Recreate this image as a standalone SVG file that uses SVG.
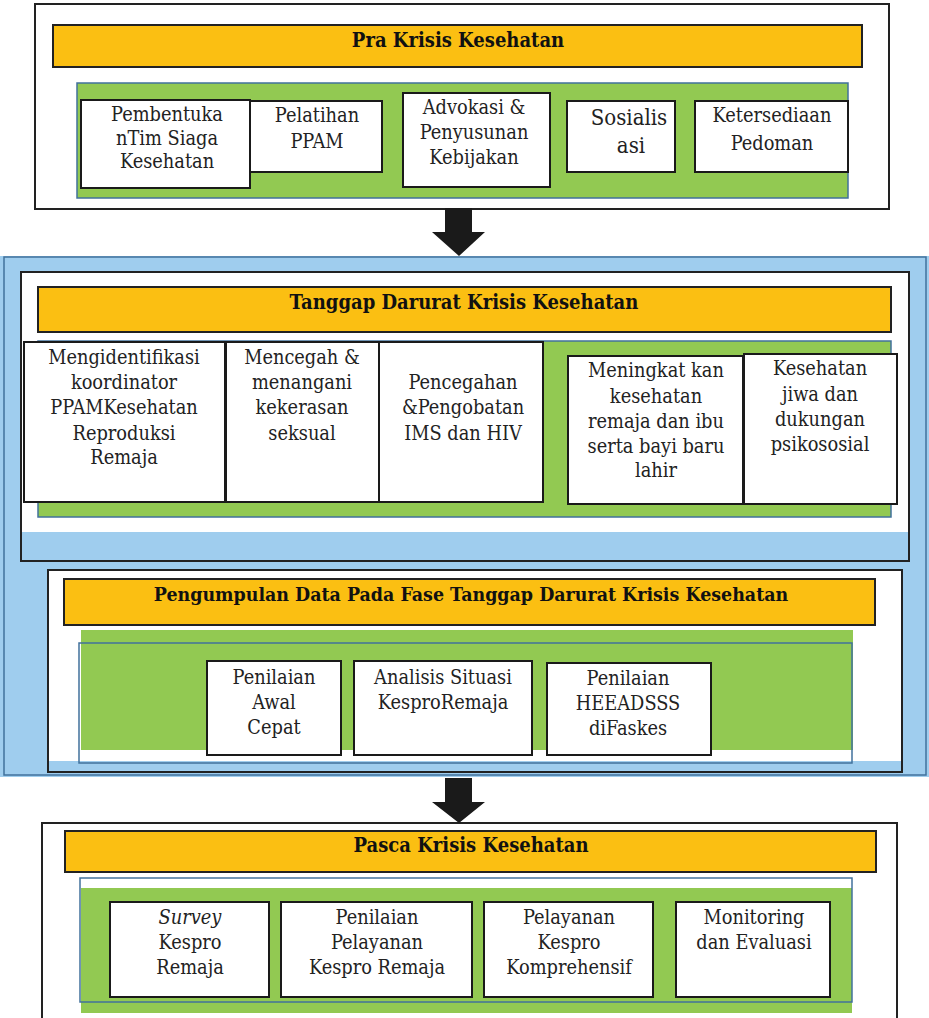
<svg xmlns="http://www.w3.org/2000/svg" width="929" height="1018" viewBox="0 0 929 1018">
<style>
.frame{fill:#fff;stroke:#222;stroke-width:2}
.bar{fill:#FBBF12;stroke:#222;stroke-width:2}
.green{fill:#92C952;stroke:#41719C;stroke-width:1.5}
.gfill{fill:#92C952}
.box{fill:#fff;stroke:#1a1a1a;stroke-width:2}
.lb{fill:#9FCDEE}
.t{font-family:"DejaVu Serif Condensed","DejaVu Serif",serif;font-stretch:condensed;font-size:19.8px;fill:#222;text-anchor:middle}
.h{font-family:"DejaVu Serif Condensed","DejaVu Serif",serif;font-stretch:condensed;font-size:20px;font-weight:bold;fill:#111;text-anchor:middle}
.arrow{fill:#1a1a1a}
</style>

<g id="pra">
<rect class="frame" x="35" y="4" width="854" height="205"/>
<rect class="bar" x="53" y="25" width="809" height="42"/>
<text class="h" x="458" y="47">Pra Krisis Kesehatan</text>
<rect class="green" x="77" y="83" width="771" height="115"/>
</g>
<g id="pra-1"><rect class="box" x="81" y="100" width="169" height="88"/>
<text class="t" x="167" y="121">Pembentuka</text><text class="t" x="167" y="145">nTim Siaga</text><text class="t" x="167" y="168">Kesehatan</text></g>
<g id="pra-2"><rect class="box" x="250" y="101" width="132" height="71"/>
<text class="t" x="317" y="122">Pelatihan</text><text class="t" x="317" y="148">PPAM</text></g>
<g id="pra-3"><rect class="box" x="403" y="93" width="147" height="94"/>
<text class="t" x="474" y="114">Advokasi &amp;</text><text class="t" x="474" y="139">Penyusunan</text><text class="t" x="474" y="164">Kebijakan</text></g>
<g id="pra-4"><rect class="box" x="567" y="101" width="108" height="71"/>
<text class="t" x="629" y="125" style="font-size:22px">Sosialis</text><text class="t" x="631" y="153" style="font-size:22px">asi</text></g>
<g id="pra-5"><rect class="box" x="695" y="101" width="153" height="71"/>
<text class="t" x="772" y="122">Ketersediaan</text><text class="t" x="772" y="150">Pedoman</text></g>

<g id="tanggap">
<rect x="0" y="256" width="929" height="521" class="lb"/>
<rect x="4" y="257" width="922" height="518" fill="none" stroke="#41719C" stroke-width="1.5"/>
<rect class="frame" x="21" y="272" width="888" height="289"/>
<rect class="lb" x="22" y="532" width="886" height="28"/>
<rect class="bar" x="38" y="287" width="853" height="45"/>
<text class="h" x="464" y="309">Tanggap Darurat Krisis Kesehatan</text>
<rect class="green" x="38" y="341" width="853" height="176"/>
</g>
<g id="td-1"><rect class="box" x="24" y="342" width="201" height="160"/>
<text class="t" x="124" y="364">Mengidentifikasi</text><text class="t" x="124" y="389">koordinator</text><text class="t" x="124" y="414">PPAMKesehatan</text><text class="t" x="124" y="440">Reproduksi</text><text class="t" x="124" y="464">Remaja</text></g>
<g id="td-2"><rect class="box" x="226" y="342" width="153" height="160"/>
<text class="t" x="302" y="364">Mencegah &amp;</text><text class="t" x="302" y="389">menangani</text><text class="t" x="302" y="414">kekerasan</text><text class="t" x="302" y="440">seksual</text></g>
<g id="td-3"><rect class="box" x="379" y="342" width="164" height="160"/>
<text class="t" x="463" y="389">Pencegahan</text><text class="t" x="463" y="414">&amp;Pengobatan</text><text class="t" x="463" y="440">IMS dan HIV</text></g>
<g id="td-4"><rect class="box" x="568" y="356" width="175" height="148"/>
<text class="t" x="656" y="377">Meningkat kan</text><text class="t" x="656" y="403">kesehatan</text><text class="t" x="656" y="428">remaja dan ibu</text><text class="t" x="656" y="453">serta bayi baru</text><text class="t" x="656" y="477">lahir</text></g>
<g id="td-5"><rect class="box" x="744" y="354" width="153" height="150"/>
<text class="t" x="820" y="375">Kesehatan</text><text class="t" x="820" y="401">jiwa dan</text><text class="t" x="820" y="426">dukungan</text><text class="t" x="820" y="451">psikososial</text></g>

<g id="pengumpulan">
<rect class="frame" x="48" y="570" width="854" height="202"/>
<rect class="lb" x="49" y="761" width="852" height="10"/>
<rect class="bar" x="64" y="579" width="811" height="46"/>
<text class="h" x="471" y="601" style="font-size:19.4px">Pengumpulan Data Pada Fase Tanggap Darurat Krisis Kesehatan</text>
<rect class="gfill" x="81" y="630" width="772" height="120"/>
<rect x="79" y="643" width="773" height="120" fill="none" stroke="#41719C" stroke-width="1.5"/>
</g>
<g id="pd-1"><rect class="box" x="207" y="661" width="134" height="94"/>
<text class="t" x="274" y="684">Penilaian</text><text class="t" x="274" y="709">Awal</text><text class="t" x="274" y="734">Cepat</text></g>
<g id="pd-2"><rect class="box" x="354" y="661" width="178" height="94"/>
<text class="t" x="443" y="684">Analisis Situasi</text><text class="t" x="443" y="709">KesproRemaja</text></g>
<g id="pd-3"><rect class="box" x="547" y="663" width="164" height="92"/>
<text class="t" x="628" y="685">Penilaian</text><text class="t" x="628" y="710">HEEADSSS</text><text class="t" x="628" y="735">diFaskes</text></g>

<g id="pasca">
<rect class="frame" x="42" y="823" width="855" height="210"/>
<rect class="bar" x="65" y="831" width="811" height="41"/>
<text class="h" x="471" y="852">Pasca Krisis Kesehatan</text>
<rect class="gfill" x="81" y="888" width="771" height="125"/>
<rect x="80" y="878" width="772" height="124" fill="none" stroke="#41719C" stroke-width="1.5"/>
</g>
<g id="pc-1"><rect class="box" x="110" y="902" width="159" height="95"/>
<text class="t" x="190" y="924" font-style="italic">Survey</text><text class="t" x="190" y="949">Kespro</text><text class="t" x="190" y="974">Remaja</text></g>
<g id="pc-2"><rect class="box" x="281" y="902" width="191" height="95"/>
<text class="t" x="377" y="924">Penilaian</text><text class="t" x="377" y="949">Pelayanan</text><text class="t" x="377" y="974">Kespro Remaja</text></g>
<g id="pc-3"><rect class="box" x="484" y="902" width="169" height="95"/>
<text class="t" x="569" y="924">Pelayanan</text><text class="t" x="569" y="949">Kespro</text><text class="t" x="569" y="974">Komprehensif</text></g>
<g id="pc-4"><rect class="box" x="676" y="902" width="154" height="95"/>
<text class="t" x="754" y="924">Monitoring</text><text class="t" x="754" y="949">dan Evaluasi</text></g>

<g id="connectors">
<polygon class="arrow" points="445,208 472,208 472,232 485,232 459,256 432,232 445,232"/>
<polygon class="arrow" points="445,778 472,778 472,802 485,802 459,823 432,802 445,802"/>
</g>
</svg>
